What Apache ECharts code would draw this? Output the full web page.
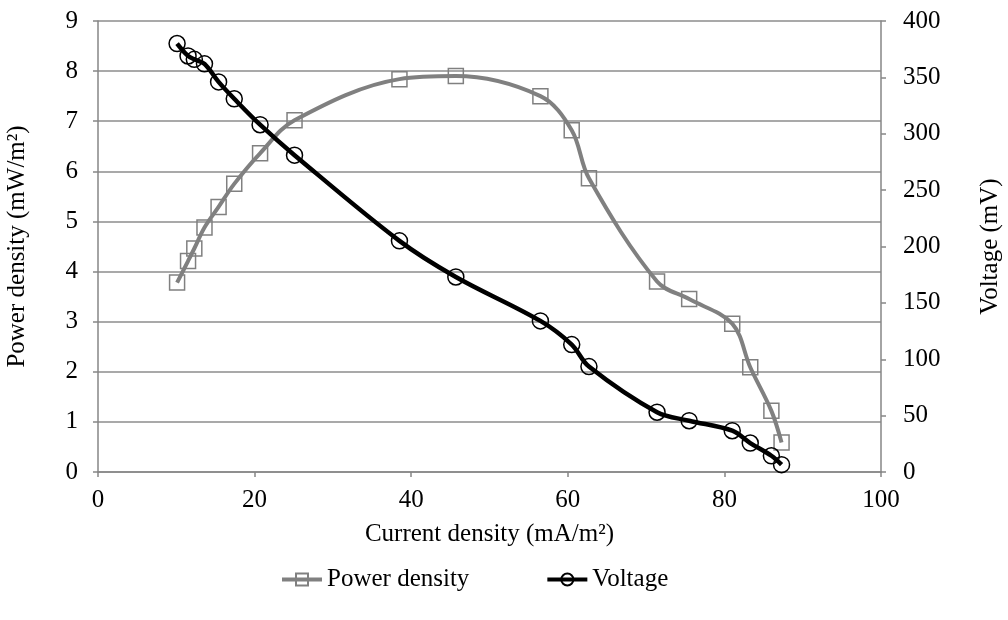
<!DOCTYPE html>
<html>
<head>
<meta charset="utf-8">
<script src="https://cdn.jsdelivr.net/npm/echarts@6/dist/echarts.min.js"></script>
<style>
  html, body { margin: 0; padding: 0; background: #fff; }
  #chart { width: 1008px; height: 620px; }
</style>
</head>
<body>
<div id="chart"></div>
<script>
// Current density (mA/m2) at each measurement
const currentDensity = [10.1, 11.5, 12.3, 13.6, 15.4, 17.4, 20.7, 25.1, 38.5, 45.7, 56.5, 60.5, 62.7, 71.4, 75.5, 81.0, 83.3, 86.0, 87.3];
// Power density (mW/m2)
const powerDensity = [3.78, 4.21, 4.46, 4.88, 5.29, 5.75, 6.36, 7.02, 7.84, 7.90, 7.50, 6.82, 5.86, 3.80, 3.45, 2.96, 2.09, 1.22, 0.59];
// Cell voltage (mV)
const voltage = [380, 369, 366, 362, 346, 331, 308, 281, 205, 173, 134, 113, 93.5, 53, 45.5, 36.6, 25.7, 14.4, 6.5];

const seriesNames = ['Power density', 'Voltage'];
const xName = 'Current density (mA/m\u00B2)';
const yLeftName = 'Power density (mW/m\u00B2)';
const yRightName = 'Voltage (mV)';

const FONT = 'Liberation Serif';
const FS = 25;
const AXIS_GREY = '#868686';

const pairs = (xs, ys) => xs.map((x, i) => [x, ys[i]]);

const chart = echarts.init(document.getElementById('chart'), null, { renderer: 'canvas' });

const baseText = { fontFamily: FONT, fontSize: FS, color: '#000' };

chart.setOption({
  backgroundColor: '#fff',
  animation: false,
  textStyle: { fontFamily: FONT },
  grid: { left: 98, right: 127, top: 21, bottom: 148, containLabel: false, outerBoundsMode: 'none' },
  legend: {
    data: seriesNames,
    bottom: 23,
    left: 275,
    itemWidth: 40,
    itemHeight: 15,
    itemGap: 76,
    lineStyle: { width: 4 },
    textStyle: baseText
  },
  xAxis: {
    type: 'value',
    min: 0, max: 100, interval: 20,
    name: xName,
    nameLocation: 'middle',
    nameGap: 50,
    nameTextStyle: baseText,
    axisLine: { show: true, lineStyle: { color: AXIS_GREY, width: 1.5 } },
    axisTick: { show: true, inside: false, length: 5, lineStyle: { color: AXIS_GREY, width: 1.5 } },
    axisLabel: Object.assign({ margin: 16 }, baseText),
    splitLine: { show: false }
  },
  yAxis: [
    {
      type: 'value',
      position: 'left',
      min: 0, max: 9, interval: 1,
      name: yLeftName,
      nameLocation: 'middle',
      nameGap: 68,
      nameRotate: 90,
      nameTextStyle: baseText,
      axisLine: { show: true, lineStyle: { color: AXIS_GREY, width: 1.5 } },
      axisTick: { show: true, length: 5, lineStyle: { color: AXIS_GREY, width: 1.5 } },
      axisLabel: Object.assign({ margin: 20 }, baseText),
      splitLine: { show: true, lineStyle: { color: '#8c8c8c', width: 1.5 } }
    },
    {
      type: 'value',
      position: 'right',
      min: 0, max: 400, interval: 50,
      name: yRightName,
      nameLocation: 'middle',
      nameGap: 97,
      nameRotate: 90,
      nameTextStyle: baseText,
      axisLine: { show: true, lineStyle: { color: AXIS_GREY, width: 1.5 } },
      axisTick: { show: true, length: 5, lineStyle: { color: AXIS_GREY, width: 1.5 } },
      axisLabel: Object.assign({ margin: 22 }, baseText),
      splitLine: { show: false }
    }
  ],
  series: [
    {
      name: seriesNames[0],
      type: 'line',
      yAxisIndex: 0,
      data: pairs(currentDensity, powerDensity),
      smooth: 0.35,
      symbol: 'rect',
      symbolSize: 15,
      lineStyle: { color: '#808080', width: 4 },
      itemStyle: { color: 'rgba(255,255,255,0)', borderColor: '#808080', borderWidth: 1.5 },
      z: 2
    },
    {
      name: seriesNames[1],
      type: 'line',
      yAxisIndex: 1,
      data: pairs(currentDensity, voltage),
      smooth: 0.35,
      symbol: 'circle',
      symbolSize: 16,
      lineStyle: { color: '#000', width: 4.5 },
      itemStyle: { color: 'rgba(255,255,255,0)', borderColor: '#000', borderWidth: 1.5 },
      z: 3
    }
  ]
});
</script>
</body>
</html>
